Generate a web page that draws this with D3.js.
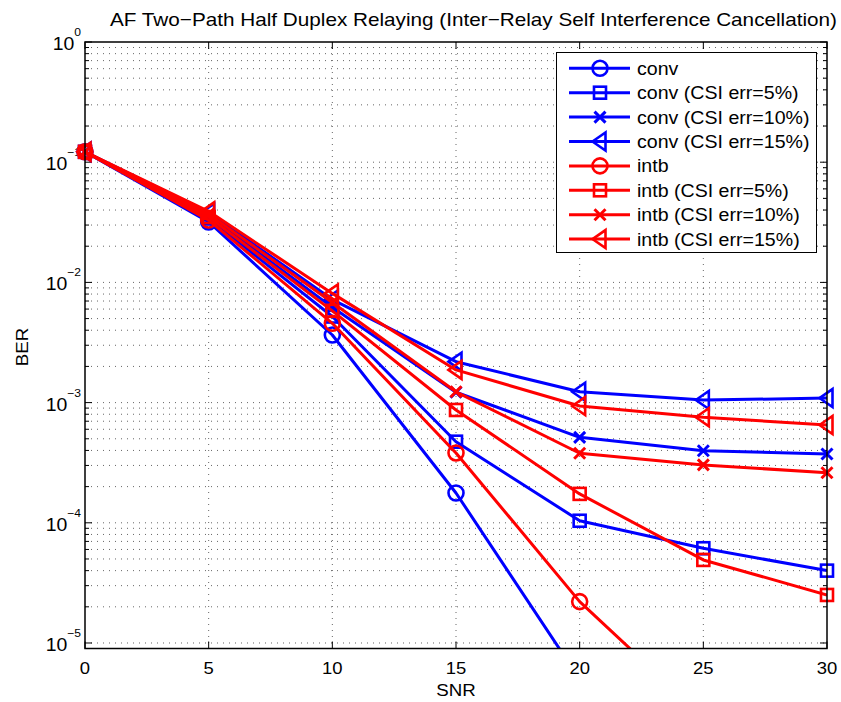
<!DOCTYPE html>
<html>
<head>
<meta charset="utf-8">
<script src="https://cdn.jsdelivr.net/npm/d3@7"></script>
<style>
  html, body { margin: 0; padding: 0; background: #fff; }
  svg text { font-family: "Liberation Sans", Arial, Helvetica, sans-serif; fill: #000; }
</style>
</head>
<body>
<svg id="chart" width="841" height="702"></svg>
<script>
// SNR sample points (dB)
const snr = [0, 5, 10, 15, 20, 25, 30];

// BER curves; null = below the plotted range
const convBER    = [0.122, 0.0318, 0.00365, 1.77e-4, 5.0e-6, null, null];
const convErr5   = [0.122, 0.034, 0.0052, 4.73e-4, 1.04e-4, 6.14e-5, 4.0e-5];
const convErr10  = [0.122, 0.036, 0.0062, 1.22e-3, 5.14e-4, 3.98e-4, 3.74e-4];
const convErr15  = [0.122, 0.038, 0.0072, 2.19e-3, 1.23e-3, 1.05e-3, 1.09e-3];
const intbBER    = [0.122, 0.033, 0.00457, 3.81e-4, 2.21e-5, 2.42e-6, null];
const intbErr5   = [0.122, 0.035, 0.0058, 8.68e-4, 1.74e-4, 4.91e-5, 2.51e-5];
const intbErr10  = [0.122, 0.037, 0.0068, 1.23e-3, 3.79e-4, 3.03e-4, 2.61e-4];
const intbErr15  = [0.122, 0.039, 0.0081, 1.87e-3, 9.37e-4, 7.55e-4, 6.51e-4];

const seriesNames = ["conv", "conv (CSI err=5%)", "conv (CSI err=10%)", "conv (CSI err=15%)",
                     "intb", "intb (CSI err=5%)", "intb (CSI err=10%)", "intb (CSI err=15%)"];
const seriesValues = [convBER, convErr5, convErr10, convErr15, intbBER, intbErr5, intbErr10, intbErr15];
const seriesColors = ["#0000ff", "#0000ff", "#0000ff", "#0000ff", "#ff0000", "#ff0000", "#ff0000", "#ff0000"];
const seriesMarkers = ["circle", "square", "cross", "triangle", "circle", "square", "cross", "triangle"];

const xTicks = [0, 5, 10, 15, 20, 25, 30];
const yExponents = [-5, -4, -3, -2, -1, 0];

const titleText = "AF Two\u2212Path Half Duplex Relaying (Inter\u2212Relay Self Interference Cancellation)";

const svg = d3.select("#chart");
const plot = { left: 85, right: 827, top: 42, bottom: 648.5 };

const x = d3.scaleLinear().domain([0, 30]).range([plot.left, plot.right]);
const y = d3.scaleLog().domain([9e-6, 1]).range([plot.bottom, plot.top]);

// text helper: slightly widened glyphs, placed by anchor point
function label(parent, px, py, size, anchor, sx) {
  return parent.append("g").attr("transform", `translate(${px},${py}) scale(${sx},1)`)
    .append("text").attr("text-anchor", anchor).attr("font-size", size);
}

// major and minor log positions
const yMajor = yExponents.map(e => Math.pow(10, e));
const yMinor = [];
for (let e = -6; e < 0; e++) {
  for (let m = 2; m <= 9; m++) {
    const v = m * Math.pow(10, e);
    if (v >= y.domain()[0] && v <= 1) yMinor.push(v);
  }
}

// dotted grid
const grid = svg.append("g").attr("stroke", "#666").attr("stroke-width", 1)
  .attr("stroke-dasharray", "1,5");
xTicks.filter(t => t > 0 && t < 30).forEach(t => {
  grid.append("line").attr("x1", x(t)).attr("x2", x(t))
    .attr("y1", plot.top).attr("y2", plot.bottom);
});
yMajor.concat(yMinor).filter(v => v < 1).forEach(v => {
  grid.append("line").attr("x1", plot.left).attr("x2", plot.right)
    .attr("y1", y(v)).attr("y2", y(v));
});

// inward ticks on all four sides
const ticks = svg.append("g").attr("stroke", "#000").attr("stroke-width", 1);
xTicks.forEach(t => {
  ticks.append("line").attr("x1", x(t)).attr("x2", x(t)).attr("y1", plot.bottom).attr("y2", plot.bottom - 7);
  ticks.append("line").attr("x1", x(t)).attr("x2", x(t)).attr("y1", plot.top).attr("y2", plot.top + 7);
});
yMajor.forEach(v => {
  ticks.append("line").attr("x1", plot.left).attr("x2", plot.left + 7).attr("y1", y(v)).attr("y2", y(v));
  ticks.append("line").attr("x1", plot.right).attr("x2", plot.right - 7).attr("y1", y(v)).attr("y2", y(v));
});
yMinor.forEach(v => {
  ticks.append("line").attr("x1", plot.left).attr("x2", plot.left + 4).attr("y1", y(v)).attr("y2", y(v));
  ticks.append("line").attr("x1", plot.right).attr("x2", plot.right - 4).attr("y1", y(v)).attr("y2", y(v));
});

// tick labels
const labels = svg.append("g");
xTicks.forEach(t => {
  label(labels, x(t), plot.bottom + 25, 16.5, "middle", 1.12).text(t);
});
yExponents.forEach(e => {
  const t = label(labels, 81, y(Math.pow(10, e)) + 8, 18.5, "end", 1.05);
  t.append("tspan").text("10");
  t.append("tspan").attr("font-size", 11.5).attr("dy", -14)
    .text(e < 0 ? "\u2212" + (-e) : String(e));
});

// axis titles
label(svg, 456, 696, 17, "middle", 1.1).text("SNR");
svg.append("g").attr("transform", "translate(28,347) rotate(-90) scale(1.1,1)")
  .append("text").attr("text-anchor", "middle").attr("font-size", 17).text("BER");
svg.append("text").attr("x", 110).attr("y", 26).attr("font-size", 18.5)
  .attr("textLength", 727).attr("lengthAdjust", "spacingAndGlyphs").text(titleText);

// marker shapes
function drawMarker(g, type, cx, cy, color) {
  const s = g.append("g").attr("transform", `translate(${cx},${cy})`)
    .attr("fill", "none").attr("stroke", color).attr("stroke-width", 2.6);
  if (type === "circle") s.append("circle").attr("r", 7.5);
  else if (type === "square") s.append("rect").attr("x", -6).attr("y", -6).attr("width", 12).attr("height", 12);
  else if (type === "cross") s.append("path").attr("d", "M-5.5,-5.5L5.5,5.5M-5.5,5.5L5.5,-5.5").attr("stroke-width", 3);
  else if (type === "triangle") s.append("path").attr("d", "M-7.5,0L5.5,-9L5.5,9Z");
}

svg.append("defs").append("clipPath").attr("id", "plotClip").append("rect")
  .attr("x", plot.left).attr("y", plot.top)
  .attr("width", plot.right - plot.left).attr("height", plot.bottom - plot.top);

const line = d3.line().defined(d => d[1] != null).x(d => x(d[0])).y(d => y(d[1]));

const curves = svg.append("g");
seriesValues.forEach((vals, i) => {
  const pts = snr.map((s, j) => [s, vals[j]]);
  const g = curves.append("g");
  g.append("path").attr("clip-path", "url(#plotClip)").attr("d", line(pts))
    .attr("fill", "none").attr("stroke", seriesColors[i]).attr("stroke-width", 3)
    .attr("stroke-linejoin", "round");
  pts.filter(p => p[1] != null && p[1] >= y.domain()[0]).forEach(p => {
    drawMarker(g, seriesMarkers[i], x(p[0]), y(p[1]), seriesColors[i]);
  });
});

// axes box
svg.append("rect").attr("x", plot.left).attr("y", plot.top)
  .attr("width", plot.right - plot.left).attr("height", plot.bottom - plot.top)
  .attr("fill", "none").attr("stroke", "#000").attr("stroke-width", 1.5);

// legend
const leg = svg.append("g");
leg.append("rect").attr("x", 556.5).attr("y", 52.5).attr("width", 260).attr("height", 200)
  .attr("fill", "#fff").attr("stroke", "#000").attr("stroke-width", 1);
seriesNames.forEach((name, i) => {
  const ly = 68.3 + i * 24.4;
  leg.append("line").attr("x1", 569).attr("x2", 630).attr("y1", ly).attr("y2", ly)
    .attr("stroke", seriesColors[i]).attr("stroke-width", 3);
  drawMarker(leg, seriesMarkers[i], 600, ly, seriesColors[i]);
  label(leg, 637, ly + 6.5, 17.5, "start", 1.12).text(name);
});
</script>
</body>
</html>
